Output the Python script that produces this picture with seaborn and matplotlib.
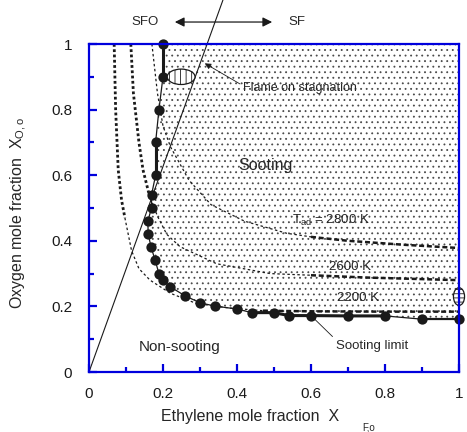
import matplotlib
matplotlib.use("Agg")
import matplotlib.pyplot as plt
import seaborn as sns
import numpy as np
import pandas as pd
from matplotlib.patches import Ellipse

# ---------------- data ----------------
# sooting limit measurements (fuel mole fraction, oxygen mole fraction)
soot_xf = [0.2, 0.2, 0.189, 0.18, 0.18, 0.169, 0.169, 0.159, 0.16, 0.168, 0.179,
           0.189, 0.2, 0.219, 0.26, 0.3, 0.34, 0.40, 0.44, 0.5, 0.54, 0.6, 0.7,
           0.8, 0.9, 1.0]
soot_xo = [1.0, 0.9, 0.8, 0.7, 0.6, 0.54, 0.50, 0.46, 0.42, 0.38, 0.34,
           0.30, 0.28, 0.26, 0.232, 0.211, 0.201, 0.192, 0.181, 0.181, 0.172, 0.172, 0.171,
           0.171, 0.161, 0.161]

# stoichiometric line
stoich_xf = [0.0, 0.362]
stoich_xo = [0.0, 1.134]

# adiabatic flame temperature isotherms
t2200_x = [0.068, 0.072, 0.079, 0.088, 0.097, 0.115, 0.135, 0.165, 0.22, 0.29, 0.38, 0.47, 0.6, 0.8, 1.0]
t2200_y = [1.0, 0.8, 0.616, 0.524, 0.47, 0.37, 0.315, 0.28, 0.24, 0.209, 0.195, 0.187, 0.185, 0.184, 0.184]
t2600_x = [0.113, 0.12, 0.135, 0.146, 0.165, 0.186, 0.21, 0.246, 0.345, 0.49, 0.6, 0.75, 1.0]
t2600_y = [1.0, 0.85, 0.7, 0.616, 0.53, 0.473, 0.42, 0.382, 0.33, 0.30, 0.295, 0.288, 0.28]
t2800_x = [0.17, 0.185, 0.2, 0.22, 0.27, 0.33, 0.42, 0.534, 0.6, 0.7, 0.85, 1.0]
t2800_y = [1.0, 0.85, 0.75, 0.687, 0.585, 0.51, 0.46, 0.423, 0.412, 0.40, 0.388, 0.378]

tick_vals = [0, 0.2, 0.4, 0.6, 0.8, 1.0]
tick_labels = ["0", "0.2", "0.4", "0.6", "0.8", "1"]

# ---------------- style ----------------
sns.set_theme(style="ticks")
plt.rcParams["font.family"] = ["Liberation Sans", "DejaVu Sans"]
plt.rcParams["mathtext.fontset"] = "custom"
plt.rcParams["mathtext.rm"] = "Liberation Sans"
plt.rcParams["mathtext.it"] = "Liberation Sans"
plt.rcParams["hatch.linewidth"] = 0.6
plt.rcParams["hatch.color"] = "#4a4a4a"

BLUE = "#0000dd"

fig = plt.figure(figsize=(4.67, 4.32), dpi=100)
ax = fig.add_axes([89 / 467, 1 - 372 / 432, 370 / 467, 328 / 432])

# sooting region stippling
df_soot = pd.DataFrame({"xf": soot_xf, "xo": soot_xo})
reg_x = list(df_soot["xf"]) + [1.0]
reg_y = list(df_soot["xo"]) + [1.0]
ax.fill(reg_x, reg_y, facecolor="none", edgecolor="#4a4a4a", hatch="...", linewidth=0, zorder=1)

# isotherms
def seg(x, y, i0, i1, **kw):
    ax.plot(x[i0:i1 + 1], y[i0:i1 + 1], color="k", zorder=3, **kw)

thick_dot = dict(lw=2.0, linestyle=(0, (1, 0.9)), dash_capstyle="butt")
thin_dot = dict(lw=0.9, linestyle=(0, (2, 2)))
thick_dash = dict(lw=1.8, linestyle=(0, (2, 1.1)))

seg(t2200_x, t2200_y, 0, 4, **thick_dot)
seg(t2200_x, t2200_y, 4, 11, **thin_dot)
seg(t2200_x, t2200_y, 11, 14, **thick_dash)

seg(t2600_x, t2600_y, 0, 4, **thick_dot)
seg(t2600_x, t2600_y, 4, 10, **thin_dot)
seg(t2600_x, t2600_y, 10, 12, **thick_dash)

seg(t2800_x, t2800_y, 0, 8, **thin_dot)
seg(t2800_x, t2800_y, 8, 11, **thick_dash)

# stoichiometric line
ax.plot(stoich_xf, stoich_xo, color="k", lw=0.8, clip_on=False, zorder=3)

# sooting limit curve and points
sns.lineplot(data=df_soot, x="xf", y="xo", sort=False, color="k", lw=0.9, ax=ax,
             estimator=None, zorder=4)
for i0, i1, lw in [(0, 1, 2.2), (3, 4, 2.2), (18, 23, 2.2), (24, 25, 1.6)]:
    ax.plot(soot_xf[i0:i1 + 1], soot_xo[i0:i1 + 1], color="k", lw=lw, zorder=4,
            solid_capstyle="butt")
sns.scatterplot(data=df_soot, x="xf", y="xo", color="k", s=55, edgecolor="k",
                linewidth=0, ax=ax, zorder=5, clip_on=False)

# hatched ellipses (observed flame positions)
ax.add_patch(Ellipse((0.249, 0.9), 0.075, 0.047, facecolor="white", edgecolor="k",
                     hatch="|||", lw=0.9, zorder=6))
ax.add_patch(Ellipse((1.0, 0.23), 0.03, 0.054, facecolor="white", edgecolor="k",
                     hatch="----", lw=0.9, zorder=6, clip_on=False))

# texts
ax.text(0.476, 0.63, "Sooting", fontsize=11.5, ha="center", va="center", zorder=7)
ax.text(0.246, 0.076, "Non-sooting", fontsize=11, ha="center", va="center", zorder=7)
ax.text(0.55, 0.462, r"T$_{\rm ad}$ = 2800 K", fontsize=9.5, ha="left", va="center", zorder=7)
ax.text(0.705, 0.32, "2600 K", fontsize=9.5, ha="center", va="center", zorder=7)
ax.text(0.728, 0.225, "2200 K", fontsize=9.5, ha="center", va="center", zorder=7)

ax.annotate("Flame on stagnation", xy=(0.313, 0.941), xytext=(0.417, 0.865),
            fontsize=9, ha="left", va="center", zorder=7,
            arrowprops=dict(arrowstyle="-|>", lw=0.6, color="k", mutation_scale=9,
                            shrinkA=0, shrinkB=0, relpos=(0, 0.7)))
ax.annotate("Sooting limit", xy=(0.6, 0.172), xytext=(0.667, 0.08),
            fontsize=9.5, ha="left", va="center", zorder=7,
            arrowprops=dict(arrowstyle="-", lw=0.6, color="k",
                            shrinkA=0, shrinkB=0, relpos=(0.0, 1.0)))

# SFO <-> SF arrow above plot
ax.annotate("", xy=(0.232, 1.067), xytext=(0.495, 1.067), annotation_clip=False,
            arrowprops=dict(arrowstyle="<|-|>", lw=0.9, color="k", mutation_scale=14,
                            shrinkA=0, shrinkB=0))
ax.text(0.151, 1.067, "SFO", fontsize=9.5, ha="center", va="center", clip_on=False)
ax.text(0.562, 1.067, "SF", fontsize=9.5, ha="center", va="center", clip_on=False)

# axes
ax.set_xlim(0, 1)
ax.set_ylim(0, 1)
ax.set_xticks(tick_vals)
ax.set_xticklabels(tick_labels)
ax.set_yticks(tick_vals)
ax.set_yticklabels(tick_labels)
ax.set_xticks(np.arange(0.1, 1.0, 0.2), minor=True)
ax.set_yticks(np.arange(0.1, 1.0, 0.2), minor=True)
ax.tick_params(axis="both", which="both", direction="in", colors=BLUE, labelcolor="k",
               top=False, right=False, width=1.6, labelsize=11)
ax.tick_params(axis="both", which="major", length=6)
ax.tick_params(axis="both", which="minor", length=3.8)
ax.tick_params(axis="x", pad=11)
ax.tick_params(axis="y", pad=12)
for sp in ax.spines.values():
    sp.set_color(BLUE)
    sp.set_linewidth(1.6)
    sp.set_visible(True)
    sp.set_zorder(8)
ax.set_xlabel("")
ax.set_ylabel("")

fig.text(19 / 467, 1 - 213 / 432, r"Oxygen mole fraction  X$_{\rm O,o}$", rotation=90,
         fontsize=11.5, ha="center", va="center")
fig.text(250 / 467, 1 - 417 / 432, "Ethylene mole fraction  X", fontsize=11.5,
         ha="center", va="center")
fig.text(369 / 467, 1 - 427 / 432, "F,o", fontsize=7, ha="center", va="center")

fig.savefig("out.png", dpi=100)
